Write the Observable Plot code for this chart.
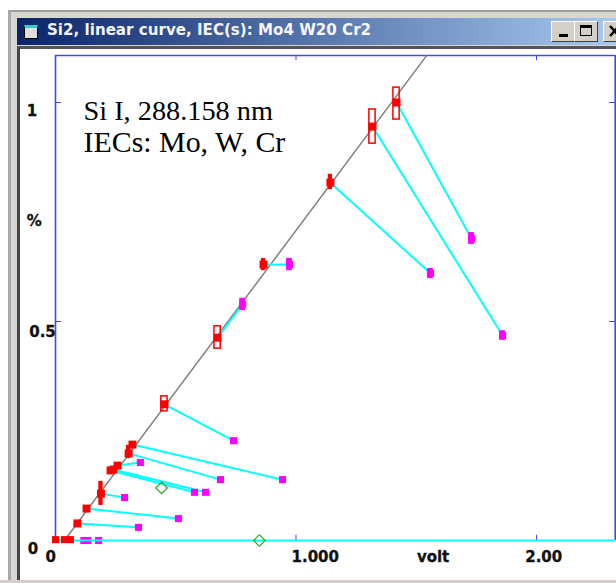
<!DOCTYPE html>
<html>
<head>
<meta charset="utf-8">
<script src="https://cdn.jsdelivr.net/npm/d3@7"></script>
<script src="https://cdn.jsdelivr.net/npm/@observablehq/plot@0.6"></script>
<style>
html,body{margin:0;padding:0;background:#fff;width:616px;height:583px;overflow:hidden}
#win{position:absolute;left:8px;top:10px;width:620px;height:580px;background:#d8d6d0;border-top:2px solid #a0a0a0;border-left:3px solid #a8a8a8;box-sizing:border-box}
#bar{position:absolute;left:17px;top:18px;width:599px;height:27px;background:linear-gradient(90deg,#0a246a 0%,#a6caf0 100%);overflow:hidden}
#bar span{position:absolute;left:30px;top:3px;color:#fff;font:bold 15.1px "DejaVu Sans";white-space:nowrap;opacity:.95}
.ico{position:absolute;left:7px;top:7px;width:12px;height:10px;background:#ddd;border:1px solid #000;border-top:3px solid #3cc}
.btn{position:absolute;top:3px;height:21px;background:#d4d0c8;border:1px solid;border-color:#fff #404040 #404040 #fff;box-sizing:border-box}
#inner{position:absolute;left:17px;top:46px;width:599px;height:534px;background:#fff;border-top:3px solid #555;border-left:3px solid #444;box-sizing:border-box}
#bot{position:absolute;left:0;top:580px;width:616px;height:3px;background:#d4d0c8}
#chart{position:absolute;left:0;top:0}
svg{background:transparent !important}
</style>
</head>
<body>
<div id="win"></div>
<div id="inner"></div>
<div id="bot"></div>
<div id="bar"><div class="ico"></div><span>Si2, linear curve, IEC(s): Mo4 W20 Cr2</span>
<div class="btn" style="left:534px;width:24px"><div style="position:absolute;left:7px;top:12px;width:9px;height:3px;background:#000"></div></div>
<div class="btn" style="left:557px;width:24px"><div style="position:absolute;left:5px;top:3px;width:12px;height:11px;border:1px solid #000;border-top:3px solid #000;box-sizing:border-box"></div></div>
<div class="btn" style="left:586px;width:24px"><svg width="22" height="19" style="display:block"><path d="M6 4L15 14M15 4L6 14" stroke="#000" stroke-width="2.4"/></svg></div>
</div>
<div id="chart"></div>
<script>
// Apparent concentrations (volt) and reference values (%)
const redX = [1.418,1.318,1.143,0.865,0.674,0.453,0.320,0.304,0.258,0.241,0.229,0.189,0.129,0.091];
const redY = [1.000,0.945,0.817,0.630,0.463,0.311,0.219,0.199,0.171,0.162,0.160,0.107,0.073,0.039];
const magX = [1.730,1.859,1.559,0.973,0.778,0.740,0.944,0.686,0.353,0.624,0.578,0.287,0.511,0.345];
const magY = [0.689,0.468,0.610,0.630,0.539,0.228,0.139,0.139,0.178,0.110,0.110,0.098,0.050,0.030];
// Points lying on the zero line
const zeroRedX = [0.000,0.037,0.062];
const zeroMagX = [0.118,0.135,0.179];
// Open error boxes on the red points
const boxX  = [1.418,1.318,0.674,0.453];
const boxLo = [0.961,0.906,0.438,0.295];
const boxHi = [1.034,0.984,0.489,0.329];
// Narrow error bars on the red points
const barX  = [1.143,0.865,0.304,0.189];
const barLo = [0.801,0.616,0.187,0.080];
const barHi = [0.836,0.644,0.217,0.135];
// Error bars on the magenta points
const magBarX  = [0.973,1.730,1.859,1.559,0.778];
const magBarLo = [0.616,0.676,0.457,0.598,0.525];
const magBarHi = [0.644,0.703,0.479,0.621,0.553];
// Green diamonds
const diaX = [0.441,0.848];
const diaY = [0.120,0.000];
// Calibration line
const calX = [0.037,1.543];
const calY = [0.000,1.107];
// Axis ticks and labels
const xTicks = [1,2];
const yTicks = [0.5,1];
const xLabels = ["0","1.000","volt","2.00"];
const xLabelPos = [-0.02,1.08,1.57,2.03];
const yLabels = ["1","%","0.5","0"];
const yLabelPos = [0.98,0.729,0.475,-0.02];
const yLabelX = [-0.098,-0.088,-0.054,-0.094];
const noteLine1 = "Si I, 288.158 nm";
const noteLine2 = "IECs: Mo, W, Cr";

const xMax = 2.3285, yMax = 1.1073;
const idx = redX.map((_,i)=>i);
const blue = "#4444ff", cyan = "#00ffff", red = "#ff0000", magenta = "#ff00ff";
const font = {fontFamily:"DejaVu Sans",fontWeight:"bold",fontSize:15,fill:"#111",stroke:"#111",strokeWidth:0.3};
const noteFont = {frameAnchor:"top-left",textAnchor:"start",lineAnchor:"middle",fontFamily:"Liberation Serif",fill:"#000"};

const plot = Plot.plot({
  width:616,height:583,marginLeft:55,marginRight:1,marginTop:55,marginBottom:43,
  style:{background:"transparent",overflow:"visible"},
  x:{domain:[0,xMax],axis:null},
  y:{domain:[0,yMax],axis:null},
  marks:[
    Plot.ruleX([0],{stroke:blue,strokeWidth:1.6,y1:0,y2:yMax}),
    Plot.ruleX([xMax],{stroke:blue,strokeWidth:2.2,y1:0,y2:yMax}),
    Plot.ruleY([yMax],{stroke:blue,strokeWidth:1.6}),
    Plot.ruleX(xTicks,{stroke:blue,y1:0,y2:0.012}),
    Plot.ruleX(xTicks,{stroke:blue,y1:yMax-0.012,y2:yMax}),
    Plot.ruleY(yTicks,{stroke:blue,x1:0,x2:0.025}),
    Plot.ruleY(yTicks,{stroke:blue,x1:xMax-0.025,x2:xMax}),
    Plot.line(calX.map((x,i)=>[x,calY[i]]),{stroke:"#808080",strokeWidth:1.5}),
    Plot.link(idx,{x1:i=>redX[i],y1:i=>redY[i],x2:i=>magX[i],y2:i=>magY[i],stroke:cyan,strokeWidth:2}),
    Plot.rect(magBarX.map((x,i)=>i),{x1:i=>magBarX[i]-0.012,x2:i=>magBarX[i]+0.012,y1:i=>magBarLo[i],y2:i=>magBarHi[i],fill:magenta}),
    Plot.dot(idx,{x:i=>magX[i],y:i=>magY[i],symbol:"square",r:4,fill:magenta}),
    Plot.dot(zeroMagX,{x:d=>d,y:()=>0,symbol:"square",r:4,fill:magenta}),
    Plot.ruleY([0],{stroke:cyan,strokeWidth:2}),
    Plot.rect(boxX.map((x,i)=>i),{x1:i=>boxX[i]-0.013,x2:i=>boxX[i]+0.013,y1:i=>boxLo[i],y2:i=>boxHi[i],fill:"none",stroke:red,strokeWidth:1.5}),
    Plot.rect(barX.map((x,i)=>i),{x1:i=>barX[i]-0.009,x2:i=>barX[i]+0.009,y1:i=>barLo[i],y2:i=>barHi[i],fill:red}),
    Plot.dot(idx,{x:i=>redX[i],y:i=>redY[i],symbol:"square",r:4.5,fill:red}),
    Plot.dot(zeroRedX,{x:d=>d,y:()=>0.002,symbol:"square",r:4,fill:red}),
    Plot.dot(diaX.map((x,i)=>i),{x:i=>diaX[i],y:i=>diaY[i],symbol:"square",rotate:45,r:4.6,fill:"none",stroke:"#22aa22",strokeWidth:1.2}),
    Plot.text(xLabels,{x:(d,i)=>xLabelPos[i],y:()=>-0.038,text:d=>d,...font}),
    Plot.text(yLabels,{x:(d,i)=>yLabelX[i],y:(d,i)=>yLabelPos[i],text:d=>d,...font}),
    Plot.text([noteLine1],{...noteFont,dx:28,dy:55,text:d=>d,fontSize:28.3}),
    Plot.text([noteLine2],{...noteFont,dx:28,dy:87,text:d=>d,fontSize:29.9})
  ]
});
document.getElementById("chart").appendChild(plot);
</script>
</body>
</html>
